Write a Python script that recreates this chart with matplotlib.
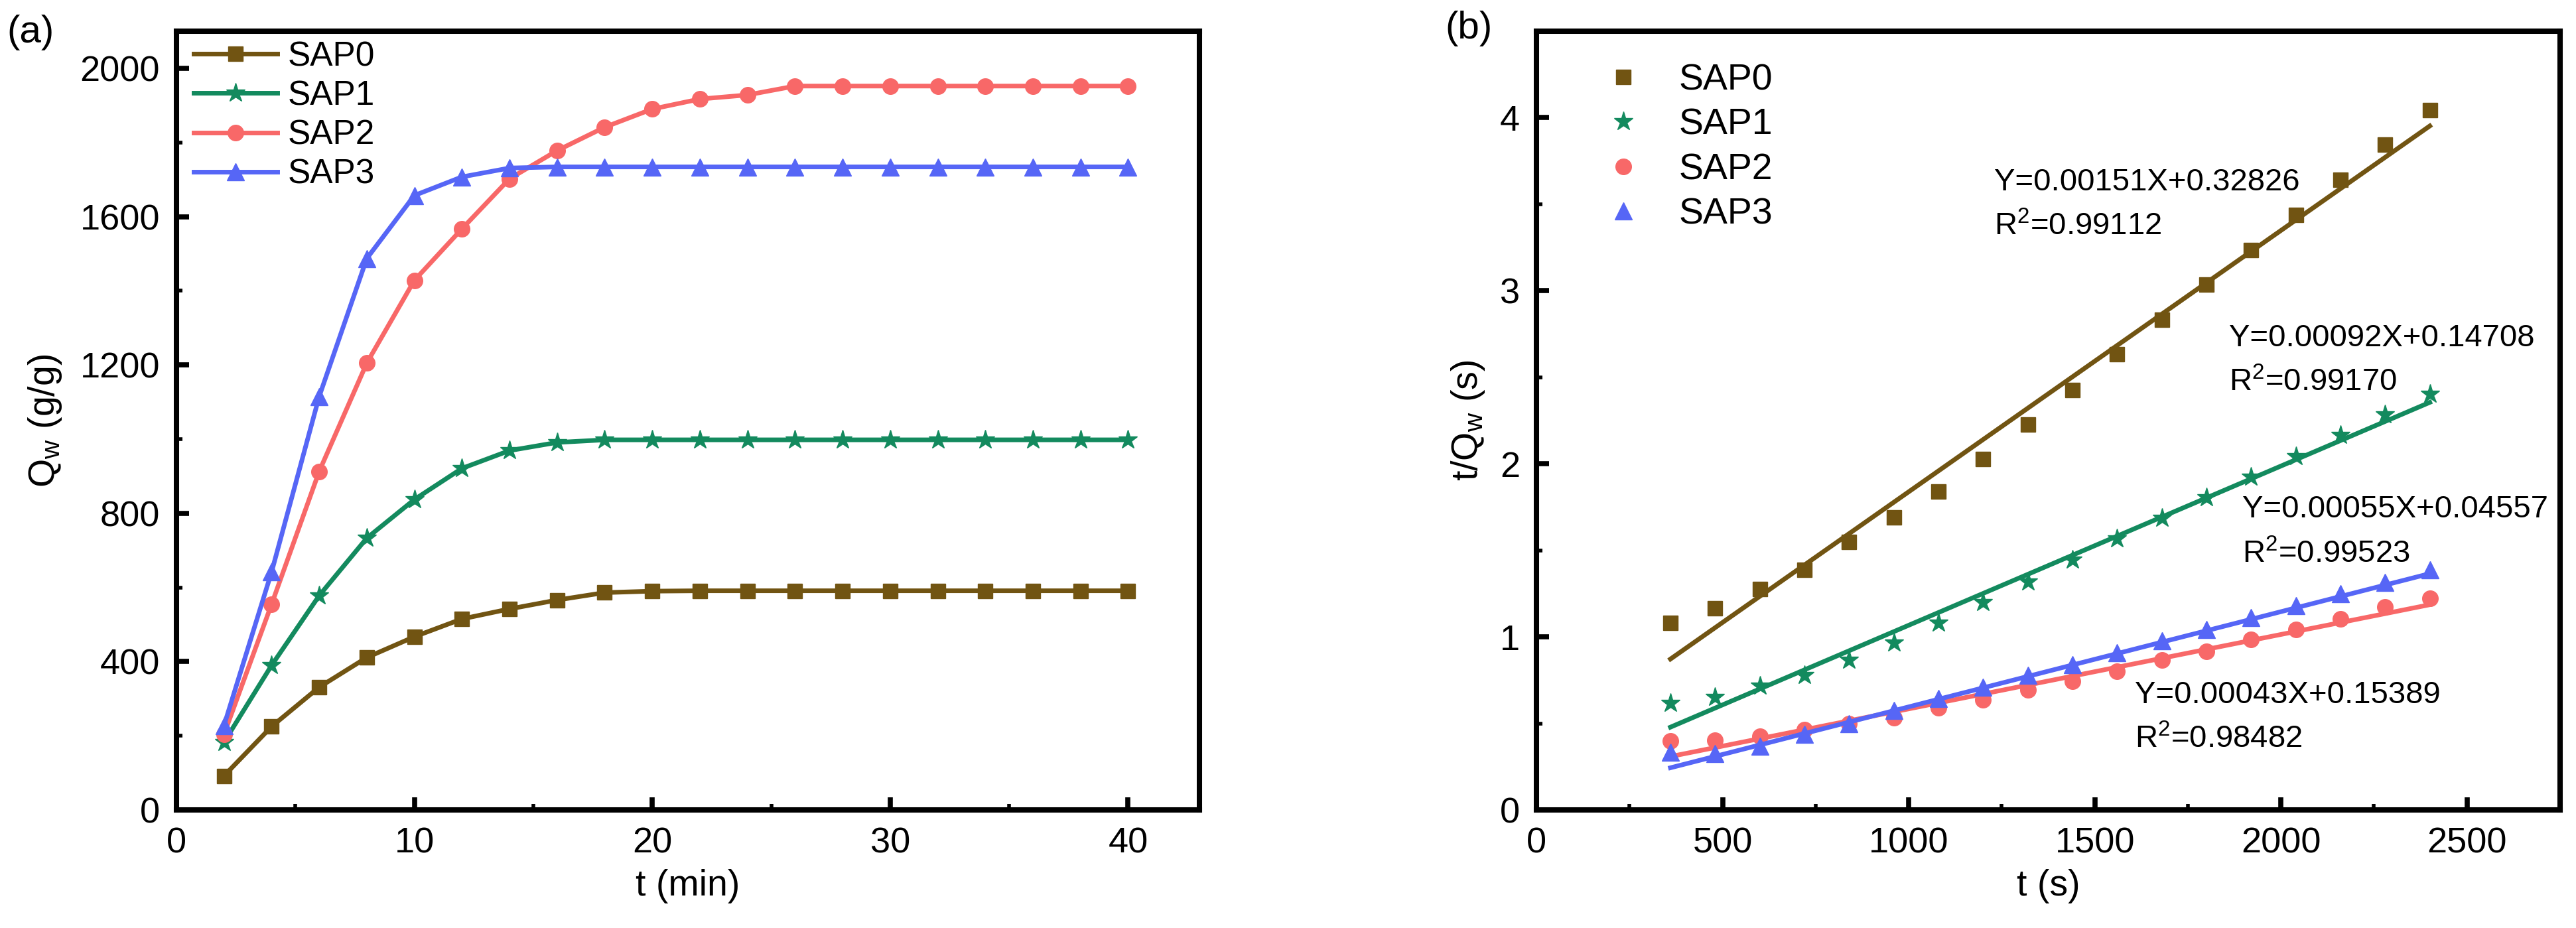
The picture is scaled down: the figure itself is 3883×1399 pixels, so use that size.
import numpy as np
import matplotlib
matplotlib.use('Agg')
import matplotlib.pyplot as plt
from matplotlib.ticker import MultipleLocator

plt.rcParams['font.family'] = ['Liberation Sans', 'DejaVu Sans']
plt.rcParams['mathtext.fontset'] = 'custom'
plt.rcParams['mathtext.rm'] = 'Liberation Sans'
plt.rcParams['mathtext.it'] = 'Liberation Sans:italic'

# (a) water absorption vs time
t_min = [2, 4, 6, 8, 10, 12, 14, 16, 18, 20, 22, 24, 26, 28, 30, 32, 34, 36, 38, 40]
q_sap0 = [92, 225, 331, 411, 467, 515, 542, 566, 586, 590, 591, 591, 591, 591, 591, 591, 591, 591, 591, 591]
q_sap1 = [183, 390, 578, 733, 837, 921, 969, 991, 998, 998, 998, 998, 998, 998, 998, 998, 998, 998, 998, 998]
q_sap2 = [204, 555, 913, 1205, 1428, 1567, 1702, 1778, 1841, 1890, 1917, 1928, 1952, 1952, 1952, 1952, 1952, 1952, 1952, 1952]
q_sap3 = [228, 642, 1115, 1487, 1657, 1707, 1731, 1734, 1734, 1734, 1734, 1734, 1734, 1734, 1734, 1734, 1734, 1734, 1734, 1734]

# (b) pseudo-second-order plot
t_s = [360, 480, 600, 720, 840, 960, 1080, 1200, 1320, 1440, 1560, 1680, 1800, 1920, 2040, 2160, 2280, 2400]
r_sap0 = [1.080, 1.166, 1.275, 1.388, 1.549, 1.692, 1.839, 2.027, 2.226, 2.427, 2.632, 2.831, 3.036, 3.234, 3.439, 3.641, 3.846, 4.044]
r_sap1 = [0.619, 0.653, 0.718, 0.779, 0.865, 0.967, 1.080, 1.200, 1.320, 1.446, 1.566, 1.685, 1.805, 1.925, 2.044, 2.164, 2.284, 2.403]
r_sap2 = [0.397, 0.403, 0.427, 0.465, 0.499, 0.533, 0.591, 0.636, 0.694, 0.745, 0.803, 0.865, 0.916, 0.985, 1.043, 1.104, 1.173, 1.224]
r_sap3 = [0.335, 0.325, 0.369, 0.438, 0.499, 0.574, 0.643, 0.711, 0.779, 0.841, 0.909, 0.978, 1.043, 1.111, 1.179, 1.248, 1.316, 1.388]

slopes = [0.00151, 0.00092, 0.00043, 0.00055]
intercepts = [0.32826, 0.14708, 0.15389, 0.04557]
r2 = ['0.99112', '0.99170', '0.98482', '0.99523']
fit_range = [360, 2400]

labels = ['SAP0', 'SAP1', 'SAP2', 'SAP3']
colors = ['#715412', '#138A5E', '#F86868', '#5666F6']
markers = ['s', '*', 'o', '^']
msizes = [16, 21, 17, 19]

W, H = 3883, 1399
fig = plt.figure(figsize=(W / 100, H / 100), dpi=100)
ax1 = fig.add_axes([266 / W, 1 - 1221 / H, (1808 - 266) / W, (1221 - 47) / H])
ax2 = fig.add_axes([2316 / W, 1 - 1221 / H, (3859 - 2316) / W, (1221 - 47) / H])

for ax in (ax1, ax2):
    for sp in ax.spines.values():
        sp.set_linewidth(5.8)
    ax.tick_params(which='major', direction='in', length=13.5, width=5.5, labelsize=39, pad=18,
                   top=False, right=False)
    ax.tick_params(which='minor', direction='in', length=6.5, width=4, top=False, right=False)

# panel (a)
for y, lab, c, m, ms in zip([q_sap0, q_sap1, q_sap2, q_sap3], labels, colors, markers, msizes):
    ax1.plot(t_min, y, color=c, marker=m, markersize=ms, linewidth=5, label=lab)
ax1.set_xlim(0, 43)
ax1.set_ylim(0, 2100)
ax1.xaxis.set_major_locator(MultipleLocator(10))
ax1.xaxis.set_minor_locator(MultipleLocator(5))
ax1.yaxis.set_major_locator(MultipleLocator(400))
ax1.yaxis.set_minor_locator(MultipleLocator(200))
ax1.set_xlabel('t (min)', fontsize=40, labelpad=10)
ax1.set_ylabel(r'Q$_\mathrm{w}$ (g/g)', fontsize=40, labelpad=18)
ax1.legend(loc='upper left', bbox_to_anchor=(0.017, 0.988), frameon=False, fontsize=37,
           borderpad=0, borderaxespad=0, handlelength=2.45, handletextpad=0.3, labelspacing=0.2)

# panel (b)
xf = np.array(fit_range)
for y, lab, c, m, ms, k, b in zip([r_sap0, r_sap1, r_sap2, r_sap3], labels, colors, markers, msizes,
                                  slopes, intercepts):
    ax2.plot(t_s, y, linestyle='none', color=c, marker=m, markersize=ms, label=lab)
    ax2.plot(xf, k * xf + b, color=c, linewidth=5)
ax2.set_xlim(0, 2750)
ax2.set_ylim(0, 4.5)
ax2.xaxis.set_major_locator(MultipleLocator(500))
ax2.xaxis.set_minor_locator(MultipleLocator(250))
ax2.yaxis.set_major_locator(MultipleLocator(1))
ax2.yaxis.set_minor_locator(MultipleLocator(0.5))
ax2.set_xlabel('t (s)', fontsize=40, labelpad=10)
ax2.set_ylabel(r't/Q$_\mathrm{w}$ (s)', fontsize=40, labelpad=14)
ax2.legend(loc='upper left', bbox_to_anchor=(0.067, 0.959), frameon=False, fontsize=40,
           borderpad=0, borderaxespad=0, handlelength=1.0, handletextpad=1.0, labelspacing=0.28)

# fit equations
eq_pos = [(1230, 3.58), (1861, 2.68), (1608, 0.617), (1896, 1.69)]
for (x, y), k, b, r in zip(eq_pos, slopes, intercepts, r2):
    ax2.text(x, y, f'Y={k:.5f}X+{b:.5f}', fontsize=34)
    ax2.text(x, y - 0.26, r'R$^{2}$=' + r, fontsize=34)

fig.text(46 / W, 1 - 49 / H, '(a)', fontsize=42, ha='center', va='center')
fig.text(2214 / W, 1 - 43 / H, '(b)', fontsize=42, ha='center', va='center')

fig.savefig('out.png', dpi=100)
